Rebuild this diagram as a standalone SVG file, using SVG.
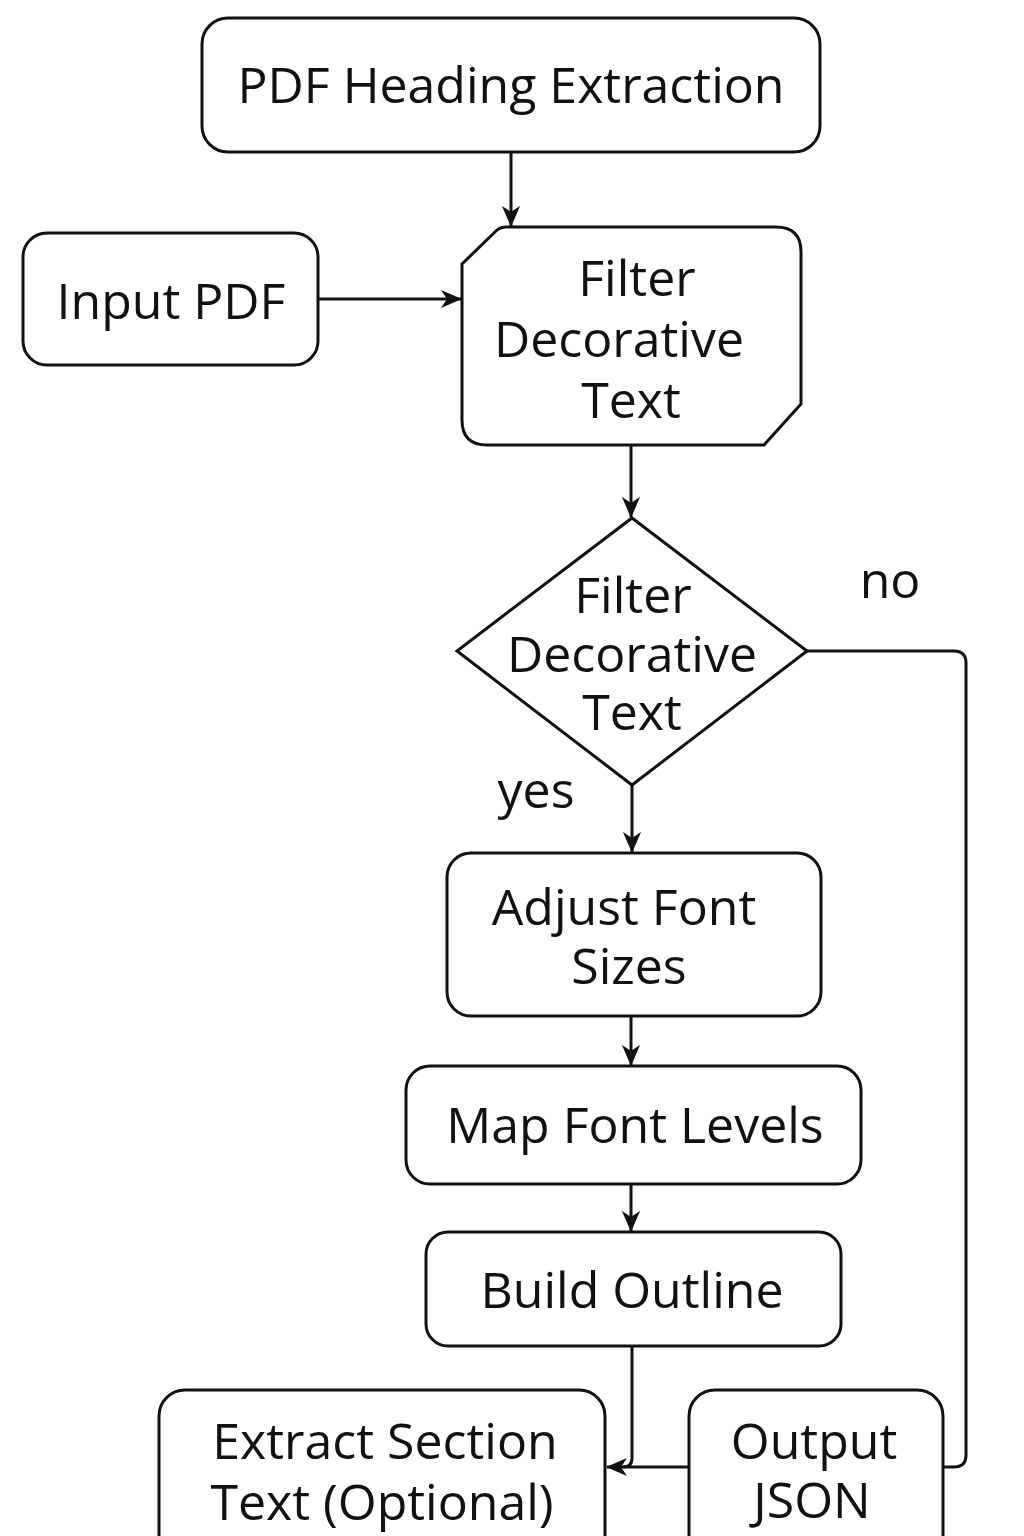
<svg xmlns="http://www.w3.org/2000/svg" width="1024" height="1536" viewBox="0 0 1024 1536">
<defs>
<style>
.n{fill:#fff;stroke:#111;stroke-width:3}
.t{font-family:"Open Sans","Liberation Sans",sans-serif;font-size:50px;fill:#111;text-anchor:middle}
.c{fill:none;stroke:#111;stroke-width:3}
</style>
<marker id="a" viewBox="0 0 12 12" refX="11.5" refY="6" markerWidth="21" markerHeight="21" markerUnits="userSpaceOnUse" orient="auto">
<path d="M0,0.8 L12,6 L0,11.2 L3.5,6 Z" fill="#111"/>
</marker>
</defs>
<rect width="1024" height="1536" fill="#fff"/>
<g id="connectors">
<path class="c" d="M511,152 V226" marker-end="url(#a)"/>
<path class="c" d="M318,299 H461" marker-end="url(#a)"/>
<path class="c" d="M631,445 V517" marker-end="url(#a)"/>
<path class="c" d="M632,785 V852" marker-end="url(#a)"/>
<path class="c" d="M631,1016 V1065" marker-end="url(#a)"/>
<path class="c" d="M631,1184 V1231" marker-end="url(#a)"/>
<path class="c" d="M632,1346 V1458 Q632,1467 623,1467"/>
<path class="c" d="M689,1467 H607" marker-end="url(#a)"/>
<path class="c" d="M807,651 H954 Q966,651 966,663 V1455 Q966,1467 954,1467 H943"/>
</g>
<g id="title">
<rect class="n" x="202" y="18" width="618" height="134" rx="26"/>
<text class="t" x="511" y="103">PDF Heading Extraction</text>
</g>
<g id="input">
<rect class="n" x="23" y="233" width="295" height="132" rx="24"/>
<text class="t" x="171" y="319">Input PDF</text>
</g>
<g id="filter">
<path class="n" d="M462,264 L496,231 Q500,227 506,227 H776 Q801,227 801,252 V404 L764,445 H487 Q462,445 462,420 Z"/>
<text class="t"><tspan x="637" y="296">Filter</tspan><tspan x="619" y="357">Decorative</tspan><tspan x="631" y="418">Text</tspan></text>
</g>
<g id="decision">
<path class="n" d="M632,518 L807,651 L632,785 L457,651 Z"/>
<text class="t" font-size="46"><tspan x="633" y="613">Filter</tspan><tspan x="632" y="672">Decorative</tspan><tspan x="632" y="730">Text</tspan></text>
</g>
<text class="t" x="890" y="598" font-size="41">no</text>
<text class="t" x="536" y="808" font-size="43">yes</text>
<g id="adjust">
<rect class="n" x="447" y="853" width="374" height="163" rx="24"/>
<text class="t"><tspan x="624" y="925">Adjust Font</tspan><tspan x="629" y="984">Sizes</tspan></text>
</g>
<g id="map">
<rect class="n" x="406" y="1066" width="455" height="118" rx="24"/>
<text class="t" x="635" y="1143">Map Font Levels</text>
</g>
<g id="build">
<rect class="n" x="426" y="1232" width="415" height="114" rx="22"/>
<text class="t" x="632" y="1308">Build Outline</text>
</g>
<g id="extract">
<rect class="n" x="159" y="1390" width="446" height="180" rx="26"/>
<text class="t"><tspan x="385" y="1459">Extract Section</tspan><tspan x="382" y="1520">Text (Optional)</tspan></text>
</g>
<g id="output">
<rect class="n" x="689" y="1390" width="254" height="180" rx="26"/>
<text class="t"><tspan x="814" y="1459">Output</tspan><tspan x="812" y="1518">JSON</tspan></text>
</g>
</svg>
